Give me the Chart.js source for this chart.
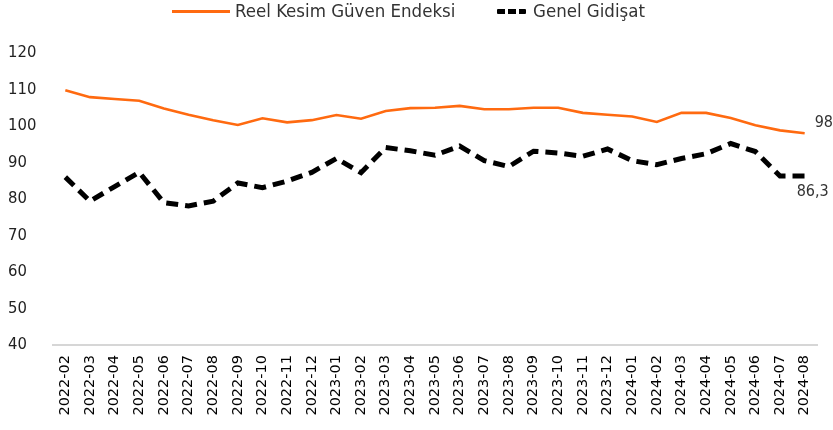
<!DOCTYPE html>
<html>
<head>
<meta charset="utf-8">
<script src="https://cdn.jsdelivr.net/npm/chart.js@4.4.0/dist/chart.umd.min.js"></script>
<style>
  body { margin: 0; background: #fff; }
  #wrap { position: relative; width: 833px; height: 430px; }
  #legend { position: absolute; left: 0; top: 0; width: 833px; height: 24px; font-family: "DejaVu Sans Condensed", "DejaVu Sans", sans-serif; font-size: 18.5px; color: #333; }
  #legend .txt { position: absolute; top: 0px; line-height: 22px; white-space: nowrap; }
  #legend .mark { position: absolute; }
</style>
</head>
<body>
<div id="wrap">
  <canvas id="chart1" width="833" height="430"></canvas>
  <div id="legend"></div>
</div>
<script>
const months = [
    "2022-02", "2022-03", "2022-04", "2022-05", "2022-06", "2022-07", "2022-08", "2022-09",
    "2022-10", "2022-11", "2022-12", "2023-01", "2023-02", "2023-03", "2023-04", "2023-05",
    "2023-06", "2023-07", "2023-08", "2023-09", "2023-10", "2023-11", "2023-12", "2024-01",
    "2024-02", "2024-03", "2024-04", "2024-05", "2024-06", "2024-07", "2024-08"
];

// Reel Kesim Güven Endeksi
const rkgeData = [
    109.8, 107.9, 107.4, 106.9, 104.8, 103.1, 101.6, 100.3,
    102.1, 101.0, 101.6, 103.0, 102.0, 104.1, 104.9, 105.0,
    105.5, 104.6, 104.6, 105.0, 105.0, 103.6, 103.1, 102.6,
    101.1, 103.6, 103.6, 102.2, 100.2, 98.8, 98.0
];

// Genel Gidişat
const gidisatData = [
    86.0, 79.4, 83.4, 87.3, 79.0, 78.1, 79.4, 84.4,
    83.1, 84.9, 87.3, 91.1, 87.2, 94.1, 93.2, 92.0,
    94.5, 90.5, 88.9, 93.1, 92.6, 91.7, 93.7, 90.5,
    89.4, 91.1, 92.4, 95.2, 93.0, 86.3, 86.3
];

const yTicks = [40, 50, 60, 70, 80, 90, 100, 110, 120];

const ORANGE = '#FF6A10';
const DARK = '#000000';

// labels at the end of the two lines
const endLabels = {
    id: 'endLabels',
    afterDatasetsDraw(chart) {
        const { ctx } = chart;
        ctx.save();
        ctx.font = '16px "DejaVu Sans Condensed", "DejaVu Sans", sans-serif';
        ctx.fillStyle = '#333';
        ctx.textBaseline = 'middle';
        ctx.textAlign = 'left';
        chart.data.datasets.forEach((ds, i) => {
            const meta = chart.getDatasetMeta(i);
            const pt = meta.data[meta.data.length - 1];
            const txt = ds.data[ds.data.length - 1].toFixed(1).replace('.', ',');
            if (i === 0) {
                ctx.fillText(txt, pt.x + 10, pt.y - 10);
            } else {
                ctx.fillText(txt, pt.x - 8, pt.y + 16);
            }
        });
        ctx.restore();
    }
};

const chart = new Chart(document.getElementById('chart1').getContext('2d'), {
    type: 'line',
    data: {
        labels: months,
        datasets: [
            {
                label: 'Reel Kesim Güven Endeksi',
                data: rkgeData,
                borderColor: ORANGE,
                borderWidth: 2.6,
                pointRadius: 0,
                tension: 0,
                fill: false
            },
            {
                label: 'Genel Gidişat',
                data: gidisatData,
                borderColor: DARK,
                borderWidth: 5,
                borderDash: [12, 7],
                pointRadius: 0,
                tension: 0,
                fill: false
            }
        ]
    },
    options: {
        responsive: false,
        animation: false,
        layout: {
            padding: { top: 53, left: 8, right: 16, bottom: 0 }
        },
        plugins: {
            legend: { display: false },
            tooltip: { enabled: false }
        },
        scales: {
            x: {
                offset: true,
                grid: { display: false, drawTicks: false },
                border: { display: true, color: '#d6d6d6', width: 2 },
                ticks: {
                    autoSkip: false,
                    maxRotation: 90,
                    minRotation: 90,
                    padding: 10,
                    color: '#000',
                    font: { family: '"DejaVu Sans", sans-serif', size: 14.5 }
                },
                afterFit: (scale) => { scale.height = 85; }
            },
            y: {
                min: 40,
                max: 120,
                afterBuildTicks: (scale) => {
                    scale.ticks = yTicks.map(v => ({ value: v }));
                },
                grid: { display: false, drawTicks: false },
                border: { display: false },
                ticks: {
                    crossAlign: 'far',
                    color: '#222',
                    font: { family: '"DejaVu Sans Condensed", "DejaVu Sans", sans-serif', size: 16.5 }
                },
                afterFit: (scale) => { scale.width = 45; }
            }
        }
    },
    plugins: [endLabels]
});

// legend, built from the datasets
const legendPos = [
    { mark: 172, markW: 58, text: 235 },
    { mark: 497, markW: 29, text: 533 }
];
const legendEl = document.getElementById('legend');
chart.data.datasets.forEach((ds, i) => {
    const p = legendPos[i];
    const mark = document.createElement('div');
    mark.className = 'mark';
    mark.style.left = p.mark + 'px';
    mark.style.width = p.markW + 'px';
    if (ds.borderDash) {
        mark.style.top = '9px';
        mark.style.height = '5px';
        mark.style.background = 'repeating-linear-gradient(to right, ' + ds.borderColor + ' 0 8px, transparent 8px 11px)';
        mark.style.borderRadius = '1px';
    } else {
        mark.style.top = '10px';
        mark.style.height = '3px';
        mark.style.background = ds.borderColor;
    }
    const txt = document.createElement('div');
    txt.className = 'txt';
    txt.style.left = p.text + 'px';
    txt.textContent = ds.label;
    legendEl.appendChild(mark);
    legendEl.appendChild(txt);
});
</script>
</body>
</html>
